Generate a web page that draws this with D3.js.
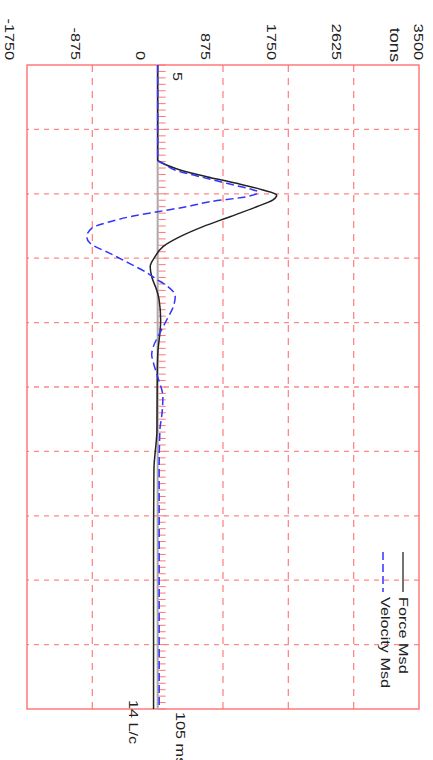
<!DOCTYPE html>
<html>
<head>
<meta charset="utf-8">
<script src="https://cdn.jsdelivr.net/npm/d3@7"></script>
<style>
  body { margin: 0; background: #fff; }
  svg { display: block; }
  text { font-family: "Liberation Sans", Arial, sans-serif; fill: #222; }
</style>
</head>
<body>
<div id="plot"></div>
<script>
// values (time in ms, force in tons)
const forceTime = [5, 19.75, 20.26, 21.3, 22.35, 23.37, 24.4, 25.19, 25.96, 27.0, 28.56, 30.1, 31.66, 33.2, 34.77, 36.3, 37.87, 39.9, 41.5, 44.6, 46.6, 49.25, 52.4, 61.7, 67.9, 80.3, 105];
const forceMsd  = [0, 0, 70, 300, 655, 1057, 1410, 1594, 1545, 1326, 968, 607, 300, 72, -35, -100, -80, -15, 20, 40, 30, 5, -5, -10, -50, -55, -55];

const velTime     = [5, 19.75, 20.5, 21.3, 22.35, 23.37, 24.4, 24.7, 25.45, 26.23, 27.0, 27.78, 28.56, 29.33, 30.36, 31.66, 32.69, 34.24, 35.8, 37.35, 38.39, 38.9, 40.98, 42.5, 44.6, 46.6, 48.8, 50.0, 51.1, 53.4, 56.55, 58.9, 61.7, 67.9, 105];
const velocityMsd = [0, 0, 100, 230, 570, 925, 1280, 1350, 1190, 700, 390, 0, -370, -640, -885, -950, -905, -640, -380, -130, 0, 75, 235, 210, 120, 30, -60, -80, -60, 0, 70, 60, 30, 20, 20];

const valueTicks = [-1750, -875, 0, 875, 1750, 2625, 3500];
const timeGrid = [15, 25, 35, 45, 55, 65, 75, 85, 95];

window.addEventListener("load", main);

function main(){
  const W = 433, H = 760;

  let svg = d3.select('#plot')
    .append('svg')
    .attr('width', W)
    .attr('height', H);

  // the chart is drawn lying on its side: build it 760 wide, then turn it
  let g = svg.append('g')
    .attr('transform', `translate(${W},0) rotate(90)`);

  let x = d3.scaleLinear().domain([5, 105]).range([65, 709]);
  let y = d3.scaleLinear().domain([-1750, 3500]).range([406, 14]);

  const stretch = 'scale(1.3,1)';

  // grid
  g.append('g').selectAll('line')
    .data(valueTicks.filter(d => d != 0 && d != 3500 && d != -1750))
    .join('line')
    .attr('x1', x(5)).attr('x2', x(105))
    .attr('y1', d => y(d)).attr('y2', d => y(d))
    .attr('stroke', '#f88').attr('stroke-width', 1.3)
    .attr('stroke-dasharray', '7,6');

  g.append('g').selectAll('line')
    .data(timeGrid)
    .join('line')
    .attr('x1', d => x(d)).attr('x2', d => x(d))
    .attr('y1', y(3500)).attr('y2', y(-1750))
    .attr('stroke', '#f88').attr('stroke-width', 1.3)
    .attr('stroke-dasharray', '5,5');

  // frame
  g.append('rect')
    .attr('x', x(5)).attr('y', y(3500))
    .attr('width', x(105) - x(5)).attr('height', y(-1750) - y(3500))
    .attr('fill', 'none').attr('stroke', '#f66').attr('stroke-width', 1.3);

  // zero line with small ms ticks
  g.append('line')
    .attr('x1', x(5)).attr('x2', x(105))
    .attr('y1', y(0)).attr('y2', y(0))
    .attr('stroke', '#aaa').attr('stroke-width', 2);

  g.append('g').selectAll('line')
    .data(d3.range(5, 106, 1))
    .join('line')
    .attr('x1', d => x(d)).attr('x2', d => x(d))
    .attr('y1', y(0) - 1).attr('y2', y(0) - 8)
    .attr('stroke', '#f77').attr('stroke-width', 1);

  // curves
  let line = d3.line()
    .x(d => x(d[0]))
    .y(d => y(d[1]))
    .curve(d3.curveMonotoneX);

  g.append('path')
    .attr('d', line(d3.zip(forceTime, forceMsd)))
    .attr('fill', 'none').attr('stroke', '#222').attr('stroke-width', 1.5);

  g.append('path')
    .attr('d', line(d3.zip(velTime, velocityMsd)))
    .attr('fill', 'none').attr('stroke', '#33f').attr('stroke-width', 1.5)
    .attr('stroke-dasharray', '8,4');

  // value labels
  g.append('g').selectAll('text')
    .data(valueTicks)
    .join('text')
    .attr('transform', d => `translate(60,${d == 3500 ? y(d) + 1 : y(d) + 17.5}) ${stretch}`)
    .attr('text-anchor', 'end')
    .attr('dominant-baseline', 'central')
    .attr('font-size', 12.5)
    .text(d => d);

  g.append('text')
    .attr('transform', `translate(62,38) ${stretch}`)
    .attr('text-anchor', 'end')
    .attr('dominant-baseline', 'central')
    .attr('font-size', 14)
    .text('tons');

  // time labels
  g.append('text')
    .attr('transform', `translate(72,256) ${stretch}`)
    .attr('dominant-baseline', 'central')
    .attr('font-size', 12.5)
    .text('5');

  g.append('text')
    .attr('transform', `translate(712,253) ${stretch}`)
    .attr('dominant-baseline', 'central')
    .attr('font-size', 12.5)
    .text('105 ms');

  g.append('text')
    .attr('transform', `translate(700,300) ${stretch}`)
    .attr('dominant-baseline', 'central')
    .attr('font-size', 12.5)
    .text('14 L/c');

  // legend
  g.append('line')
    .attr('x1', 552).attr('x2', 592).attr('y1', 30).attr('y2', 30)
    .attr('stroke', '#444').attr('stroke-width', 1.5);
  g.append('text')
    .attr('transform', `translate(597,30) ${stretch}`)
    .attr('dominant-baseline', 'central')
    .attr('font-size', 12.5)
    .text('Force Msd');

  g.append('line')
    .attr('x1', 552).attr('x2', 592).attr('y1', 50).attr('y2', 50)
    .attr('stroke', '#33f').attr('stroke-width', 1.5)
    .attr('stroke-dasharray', '8,4');
  g.append('text')
    .attr('transform', `translate(597,48) ${stretch}`)
    .attr('dominant-baseline', 'central')
    .attr('font-size', 12.5)
    .text('Velocity Msd');
}
</script>
</body>
</html>
